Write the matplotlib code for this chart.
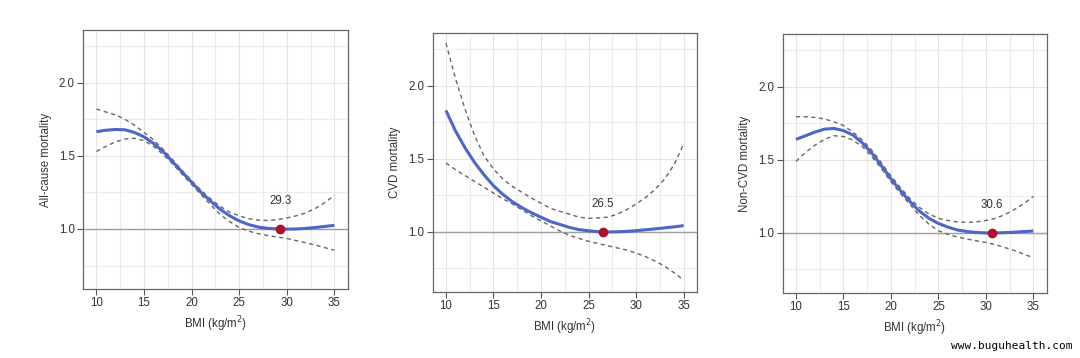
import matplotlib
matplotlib.use("Agg")
import matplotlib.pyplot as plt
from matplotlib.ticker import MultipleLocator

plt.rcParams['font.family'] = ['Liberation Sans', 'DejaVu Sans']

bmi = list(range(10, 36))

# All-cause mortality
all_main = [1.665, 1.675, 1.68, 1.678, 1.66, 1.63, 1.585, 1.53, 1.46, 1.39, 1.32, 1.25, 1.19,
            1.135, 1.09, 1.055, 1.03, 1.013, 1.004, 1.0, 0.999, 1.0, 1.004, 1.01, 1.017, 1.025]
all_upper = [1.82, 1.80, 1.78, 1.75, 1.71, 1.66, 1.61, 1.545, 1.475, 1.40, 1.33, 1.265, 1.205,
             1.155, 1.115, 1.09, 1.07, 1.06, 1.058, 1.063, 1.075, 1.09, 1.11, 1.14, 1.18, 1.23]
all_lower = [1.53, 1.565, 1.595, 1.615, 1.62, 1.605, 1.565, 1.51, 1.445, 1.375, 1.305, 1.235, 1.165,
             1.10, 1.05, 1.01, 0.985, 0.968, 0.955, 0.945, 0.935, 0.92, 0.905, 0.89, 0.872, 0.855]

# CVD mortality
cvd_main = [1.83, 1.69, 1.575, 1.475, 1.39, 1.315, 1.255, 1.205, 1.165, 1.13, 1.10, 1.07, 1.05,
            1.03, 1.015, 1.007, 1.001, 0.999, 1.0, 1.003, 1.008, 1.014, 1.02, 1.027, 1.034, 1.042]
cvd_upper = [2.29, 2.05, 1.84, 1.66, 1.52, 1.43, 1.36, 1.31, 1.27, 1.23, 1.195, 1.16, 1.14,
             1.12, 1.10, 1.092, 1.095, 1.10, 1.12, 1.15, 1.19, 1.235, 1.29, 1.36, 1.46, 1.60]
cvd_lower = [1.47, 1.425, 1.385, 1.345, 1.305, 1.265, 1.225, 1.19, 1.15, 1.11, 1.075, 1.04, 1.005,
             0.975, 0.955, 0.935, 0.92, 0.905, 0.89, 0.875, 0.855, 0.83, 0.80, 0.765, 0.72, 0.67]

# Non-CVD mortality
ncvd_main = [1.64, 1.665, 1.69, 1.71, 1.715, 1.70, 1.67, 1.615, 1.545, 1.46, 1.37, 1.29, 1.215,
             1.15, 1.10, 1.065, 1.04, 1.02, 1.01, 1.003, 1.0, 1.0, 1.002, 1.005, 1.009, 1.013]
ncvd_upper = [1.795, 1.795, 1.79, 1.78, 1.76, 1.735, 1.69, 1.635, 1.565, 1.48, 1.39, 1.31, 1.235,
              1.175, 1.13, 1.10, 1.085, 1.075, 1.072, 1.075, 1.085, 1.10, 1.125, 1.16, 1.20, 1.25]
ncvd_lower = [1.49, 1.55, 1.60, 1.64, 1.665, 1.66, 1.635, 1.59, 1.52, 1.44, 1.35, 1.27, 1.195,
              1.12, 1.06, 1.015, 0.99, 0.972, 0.958, 0.946, 0.935, 0.92, 0.90, 0.88, 0.855, 0.83]

nadir_x = [29.3, 26.5, 30.6]
nadir_labels = ["29.3", "26.5", "30.6"]
ylabels = ["All-cause mortality", "CVD mortality", "Non-CVD mortality"]
xticks = [10, 15, 20, 25, 30, 35]
yticks = [1.0, 1.5, 2.0]

series = [(all_main, all_upper, all_lower),
          (cvd_main, cvd_upper, cvd_lower),
          (ncvd_main, ncvd_upper, ncvd_lower)]

fig = plt.figure(figsize=(10.8, 3.58), dpi=100)
positions = [[0.0769, 0.193, 0.245, 0.723],
             [0.4006, 0.185, 0.2447, 0.723],
             [0.7247, 0.182, 0.2444, 0.7226]]

FS = 8.3
for i, (pos, (m, u, l)) in enumerate(zip(positions, series)):
    ax = fig.add_axes(pos)
    ax.set_xlim(8.6, 36.4)
    ax.set_ylim(0.59, 2.36)
    ax.set_xticks(xticks)
    ax.set_yticks(yticks)
    ax.set_yticklabels([f"{v:.1f}" for v in yticks])
    ax.xaxis.set_minor_locator(MultipleLocator(2.5))
    ax.yaxis.set_minor_locator(MultipleLocator(0.25))
    ax.grid(True, which='major', color='#e4e4e4', lw=0.8)
    ax.grid(True, which='minor', color='#ececec', lw=0.8)
    ax.tick_params(which='minor', length=0)
    ax.tick_params(which='major', length=4, width=0.8, color='#555555',
                   labelsize=FS, labelcolor='#333333', pad=2)
    for s in ax.spines.values():
        s.set_color('#666666')
        s.set_linewidth(0.9)
    ax.set_axisbelow(True)
    ax.axhline(1.0, color='#a0a0a0', lw=1.0, zorder=1)
    ax.plot(bmi, u, ls=(0, (3, 2.5)), color='#666666', lw=1.0, zorder=2)
    ax.plot(bmi, l, ls=(0, (3, 2.5)), color='#666666', lw=1.0, zorder=2)
    ax.plot(bmi, m, color='#4d66c8', lw=2.2, zorder=3, solid_capstyle='butt')
    ax.plot([nadir_x[i]], [1.0], 'o', color='#b0102a', ms=6, zorder=4)
    ax.text(nadir_x[i], 1.19, nadir_labels[i], ha='center', va='center',
            fontsize=FS, color='#333333')
    ax.set_xlabel("BMI (kg/m$^2$)", fontsize=FS, color='#333333', labelpad=4)
    ax.set_ylabel(ylabels[i], fontsize=FS, color='#333333', labelpad=5)

fig.text(0.993, 0.02, "www.buguhealth.com", ha='right', va='bottom',
         fontsize=8, family='DejaVu Sans Mono', color='black')

fig.savefig("out.png", dpi=100, facecolor='white')
